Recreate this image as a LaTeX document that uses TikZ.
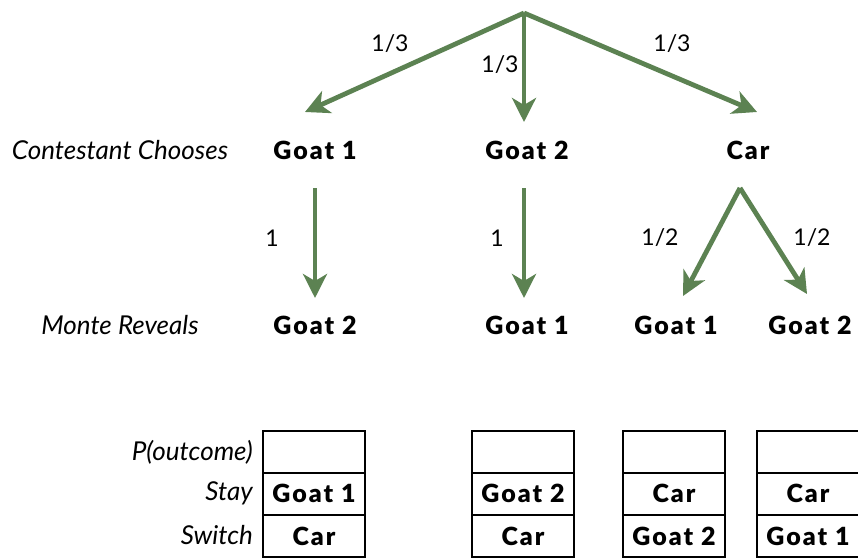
\documentclass[tikz,border=0pt]{standalone}
\usepackage{fontspec}
\setmainfont{Lato}
\newfontfamily\heavyfont{Lato Black}[LetterSpace=8]
\usetikzlibrary{arrows.meta,calc}
\definecolor{branch}{RGB}{92,130,82}

\begin{document}
\begin{tikzpicture}[x=1pt,y=-1pt,
    arr/.style={branch, line width=4.8pt, -{Stealth[length=24pt,width=24pt,inset=7pt]}},
    choice/.style={font=\fontsize{25}{29}\selectfont\heavyfont, inner sep=0pt},
    side/.style={font=\fontsize{26}{30}\selectfont\itshape, inner sep=0pt},
    prob/.style={font=\fontsize{23}{27}\selectfont, inner sep=0pt},
    cell/.style={draw, line width=1.6pt, minimum width=102pt, minimum height=42pt, inner sep=0pt, font=\fontsize{25}{29}\selectfont\heavyfont}]
		\clip (0,0) rectangle (858,559);
		\coordinate (root) at (524,13);
		% contestant's pick
		\node[side] (chooses) at (120,150) {Contestant Chooses};
		\node[choice] (c1) at (315,150) {Goat 1};
		\node[choice] (c2) at (527,150) {Goat 2};
		\node[choice] (c3) at (748,150) {Car};
		\draw [arr] (root) -- ($(c1)+(-10,-38)$);
		\draw [arr] (root) -- ($(c2)+(-3,-28)$);
		\draw [arr] (root) -- ($(c3)+(9,-38)$);
		\node[prob] at (390,44) {1/3};
		\node[prob] at (500,65) {1/3};
		\node[prob] at (672,44) {1/3};
		% Monte's reveal
		\node[side] (reveals) at (120,325) {Monte Reveals};
		\node[choice] (r1) at (315,325) {Goat 2};
		\node[choice] (r2) at (527,325) {Goat 1};
		\node[choice] (r3) at (676,325) {Goat 1};
		\node[choice] (r4) at (810,325) {Goat 2};
		\draw [arr] ($(c1)+(0,38)$) -- ($(r1)+(0,-27)$);
		\draw [arr] ($(c2)+(-3,38)$) -- ($(r2)+(-3,-27)$);
		\draw [arr] ($(c3)+(-8,38)$) -- ($(r3)+(7,-29)$);
		\draw [arr] ($(c3)+(-8,38)$) -- ($(r4)+(-3,-31)$);
		\node[prob] at (272,238) {1};
		\node[prob] at (497,238) {1};
		\node[prob] at (660,238) {1/2};
		\node[prob] at (812,238) {1/2};
		% outcome table
		\node[side, anchor=east] (lp) at (253,452) {P(outcome)};
		\node[side, anchor=east] (ls) at (253,493) {Stay};
		\node[side, anchor=east] (lw) at (253,535) {Switch};
		\foreach \x/\stay/\switch [count=\i] in {314/Goat 1/Car, 523/Goat 2/Car, 674/Car/Goat 2, 808/Car/Goat 1}
		{
			\node[cell] (p\i) at (\x,452) {};
			\node[cell] (s\i) at (\x,493.5) {\stay};
			\node[cell] (w\i) at (\x,536) {\switch};
		}
\end{tikzpicture}
\end{document}
